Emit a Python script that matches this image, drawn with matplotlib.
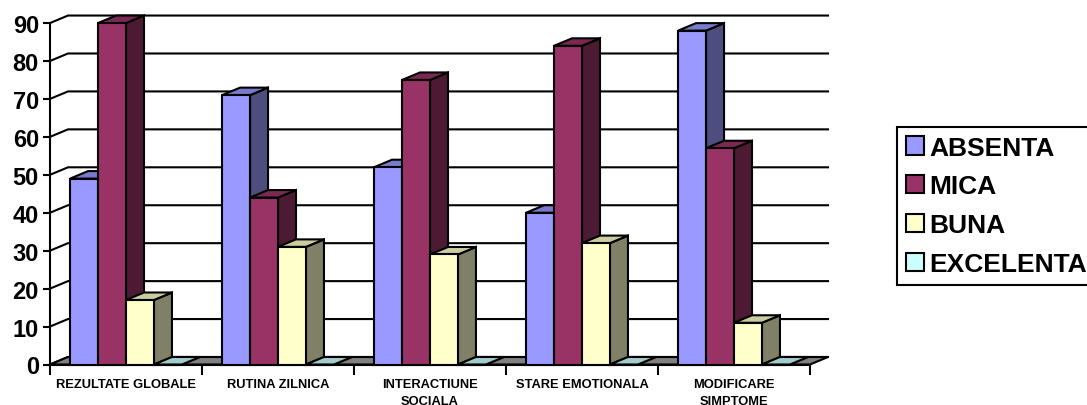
import matplotlib
matplotlib.use('Agg')
import matplotlib.pyplot as plt
from matplotlib.patches import Polygon, Patch
from matplotlib.colors import to_rgb

plt.rcParams['font.family'] = ['Liberation Sans', 'DejaVu Sans']
plt.rcParams['font.weight'] = 'bold'

categories = ['REZULTATE GLOBALE', 'RUTINA ZILNICA', 'INTERACTIUNE\nSOCIALA',
              'STARE EMOTIONALA', 'MODIFICARE\nSIMPTOME']
series = ['ABSENTA', 'MICA', 'BUNA', 'EXCELENTA']
absenta = [49, 71, 52, 40, 88]
mica = [90, 44, 75, 84, 57]
buna = [17, 31, 29, 32, 11]
excelenta = [0, 0, 0, 0, 0]
values = [absenta, mica, buna, excelenta]
colors = ['#9999FF', '#993366', '#FFFFCC', '#CCFFFF']
yticks = list(range(0, 100, 10))


def shade(c, f):
    r, g, b = to_rgb(c)
    return (r * f, g * f, b * f)


W, H = 1087, 406
fig = plt.figure(figsize=(W / 100, H / 100), dpi=100)

n = len(categories)
DX = 18 / 152          # depth offset, category units
PPU = 3.794            # pixels per value unit
DY = 7.5 / PPU         # depth offset, value units
x0px, x1px, y0px = 50, 828, 365.5
ytop = max(yticks) + DY

ax = fig.add_axes([x0px / W, (H - y0px) / H, (x1px - x0px) / W, ytop * PPU / H])
ax.set_xlim(0, n + DX)
ax.set_ylim(0, ytop)

LW = 1.5
# left wall diagonals and back-wall gridlines
for v in yticks:
    ax.plot([0, DX, n + DX], [v, v + DY, v + DY], color='black', lw=LW,
            zorder=1, clip_on=False, solid_joinstyle='miter')

# floor
ax.add_patch(Polygon([(0, 0), (DX, DY), (n + DX, DY), (n, 0)], closed=True,
                     facecolor='#808080', edgecolor='black', lw=LW,
                     zorder=2, clip_on=False))

# 3D columns
gap = 0.132
bw = (1 - 2 * gap) / len(series)
z = 3.0
for i in range(n):
    for j, vals in enumerate(values):
        h = vals[i]
        l = i + gap + j * bw
        r = l + bw
        side = [(r, 0), (r + DX, DY), (r + DX, h + DY), (r, h)]
        top = [(l, h), (r, h), (r + DX, h + DY), (l + DX, h + DY)]
        front = [(l, 0), (r, 0), (r, h), (l, h)]
        for pts, f in ((side, 0.5), (top, 0.8), (front, 1.0)):
            ax.add_patch(Polygon(pts, closed=True, facecolor=shade(colors[j], f),
                                 edgecolor='black', lw=LW, joinstyle='miter',
                                 zorder=z, clip_on=False))
            z += 0.001

for s in ('top', 'right'):
    ax.spines[s].set_visible(False)
ax.spines['left'].set_bounds(0, max(yticks))
ax.spines['left'].set_linewidth(LW)
ax.spines['bottom'].set_bounds(0, n)
ax.spines['bottom'].set_linewidth(LW)
ax.spines['bottom'].set_zorder(2.5)

ax.set_yticks(yticks)
ax.set_yticklabels([str(v) for v in yticks], fontsize=17, fontweight='bold')
ax.tick_params(axis='y', direction='out', length=5, width=LW, pad=3)

ax.set_xticks(range(n + 1))
ax.set_xticklabels([])
ax.set_xticks([i + 0.5 for i in range(n)], minor=True)
ax.set_xticklabels(categories, minor=True, fontsize=9.3, fontweight='bold',
                   linespacing=1.6)
ax.tick_params(axis='x', which='major', direction='out', length=7, width=LW)
ax.tick_params(axis='x', which='minor', length=0, pad=9.5)

handles = [Patch(facecolor=c, edgecolor='black', lw=1.5) for c in colors]
fig.legend(handles, series, loc='upper left',
           bbox_to_anchor=(897 / W, 1 - 128 / H), bbox_transform=fig.transFigure,
           prop={'family': 'Liberation Sans', 'weight': 'bold', 'size': 19},
           frameon=True, fancybox=False, edgecolor='black', framealpha=1,
           handlelength=0.68, handleheight=0.68, handletextpad=0.22,
           labelspacing=0.56, borderpad=0.33, borderaxespad=0)
fig.legends[0].get_frame().set_linewidth(1.5)

fig.savefig('out.png', dpi=100)
